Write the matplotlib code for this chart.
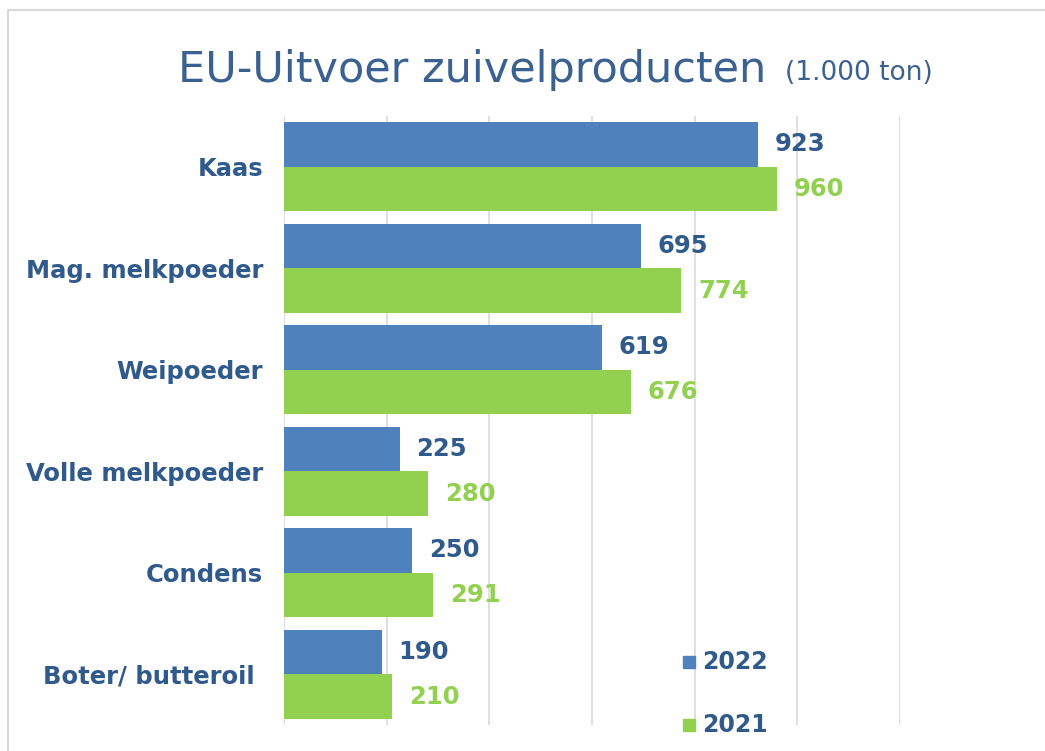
import numpy as np
import matplotlib.pyplot as plt
from matplotlib.lines import Line2D
from matplotlib.patches import Rectangle

categories = ['Kaas', 'Mag. melkpoeder', 'Weipoeder', 'Volle melkpoeder', 'Condens', 'Boter/ butteroil ']
vals_2022 = [923, 695, 619, 225, 250, 190]
vals_2021 = [960, 774, 676, 280, 291, 210]
years = ['2022', '2021']

blue = '#4F81BD'
green = '#92D050'
txt = '#305A8C'

fig = plt.figure(figsize=(10.45, 7.51), dpi=100)
ax = fig.add_axes([284/1045, 1-725/751, (900-284)/1045, (725-116)/751])

y = np.arange(len(categories))
h = 0.44
ax.barh(y - h/2, vals_2022, height=h, color=blue, zorder=2)
ax.barh(y + h/2, vals_2021, height=h, color=green, zorder=2)

for i in range(len(categories)):
    ax.text(vals_2022[i] + 33, y[i] - h/2, str(vals_2022[i]), color=txt, fontsize=17.5,
            fontweight='bold', va='center', ha='left')
    ax.text(vals_2021[i] + 33, y[i] + h/2, str(vals_2021[i]), color=green, fontsize=17.5,
            fontweight='bold', va='center', ha='left')

ax.set_xlim(0, 1200)
ax.set_ylim(len(categories) - 0.5, -0.5)
ax.set_xticks(np.arange(0, 1201, 200))
ax.xaxis.grid(True, color='#D9D9D9', linewidth=1.2, zorder=0)
ax.set_axisbelow(True)
ax.tick_params(axis='x', length=0, labelbottom=False)
ax.tick_params(axis='y', length=0, pad=15)
ax.set_yticks(y)
ax.set_yticklabels(categories, fontsize=17.5, fontweight='bold', color=txt)
for s in ax.spines.values():
    s.set_visible(False)

# legend (squares + labels)
leg_y = [662, 725]
leg_c = [blue, green]
for yy, c, lab in zip(leg_y, leg_c, years):
    fig.add_artist(Rectangle((683/1045, 1-(yy+6)/751), 12/1045, 12/751,
                             transform=fig.transFigure, color=c))
    fig.text(702/1045, 1-yy/751, lab, fontsize=17, fontweight='bold', color=txt,
             va='center', ha='left')

# title
fig.text(178/1045, 1-82/751, 'EU-Uitvoer zuivelproducten', fontsize=31, color='#3A6190',
         va='baseline', ha='left')
fig.text(785/1045, 1-80/751, '(1.000 ton)', fontsize=19, color='#3A6190',
         va='baseline', ha='left')

# chart border
fig.add_artist(Line2D([8/1045, 1], [1-10/751, 1-10/751], color='#D9D9D9', linewidth=1.5))
fig.add_artist(Line2D([8/1045, 8/1045], [0, 1-10/751], color='#D9D9D9', linewidth=1.5))

fig.savefig('out.png', dpi=100)
